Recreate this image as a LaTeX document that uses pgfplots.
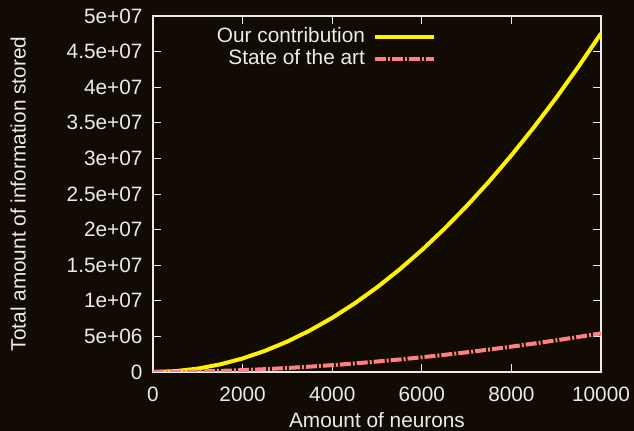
\documentclass[border=0pt]{standalone}
\usepackage{pgfplots}
\pgfplotsset{compat=1.18}
\usepackage{fontspec}
\setmainfont{Liberation Sans}
\definecolor{bg}{RGB}{18,11,3}
\definecolor{fg}{RGB}{235,235,235}
\definecolor{salmon}{RGB}{255,128,128}
\begin{document}
\begin{tikzpicture}[font=\fontsize{20.8bp}{24bp}\selectfont]
\fill[bg] (0,0) rectangle (634bp,431bp);
\useasboundingbox (0,0) rectangle (634bp,431bp);
\begin{axis}[
  at={(153bp,59bp)}, anchor=south west,
  scale only axis, width=448bp, height=356bp,
  xmin=0, xmax=10000, ymin=0, ymax=5e7,
  axis line style={fg, line width=1.2bp},
  tick style={fg, line width=1bp},
  major tick length=8bp,
  tick align=inside,
  xtick={0,2000,4000,6000,8000,10000},
  xticklabels={0,2000,4000,6000,8000,10000},
  ytick={0,5e6,1e7,1.5e7,2e7,2.5e7,3e7,3.5e7,4e7,4.5e7,5e7},
  yticklabels={0,5e+06,1e+07,1.5e+07,2e+07,2.5e+07,3e+07,3.5e+07,4e+07,4.5e+07,5e+07},
  scaled ticks=false,
  ticklabel style={text=fg},
  yticklabel style={xshift=-7bp},
  xticklabel style={yshift=-11bp},
  xlabel={Amount of neurons},
  ylabel={Total amount of information stored},
  xlabel style={text=fg, at={(axis description cs:0.5,-0.135)}, anchor=center},
  ylabel style={text=fg, at={(axis description cs:-0.301,0.5)}, anchor=center},
  legend plot pos=right,
  legend cell align=right,
  legend style={draw=none, fill=none, text=fg, at={(0.632,0.968)}, anchor=north east,
    row sep=3bp, inner sep=0pt, column sep=0pt,
    nodes={inner sep=0pt, text height=15bp, text depth=4bp}},
  legend image code/.code={\path (0bp,0bp); \draw[#1] (8bp,0bp) -- (67bp,0bp);},
]
\addplot[color=yellow, line width=4bp] coordinates {
(0,0) (500,118875) (1000,475500) (1500,1069875) (2000,1902000) (2500,2971875)
(3000,4279500) (3500,5824875) (4000,7608000) (4500,9628875) (5000,11887500)
(5500,14383875) (6000,17118000) (6500,20089875) (7000,23299500) (7500,26746875)
(8000,30432000) (8500,34354875) (9000,38515500) (9500,42913875) (10000,47550000)
};
\addlegendentry{Our contribution}
\addplot[color=salmon, line width=4bp, dash pattern=on 11bp off 2bp on 2bp off 2bp] coordinates {
(0,0) (500,20114) (1000,72382) (1500,153832) (2000,263127) (2500,399412)
(3000,562050) (3500,750567) (4000,964553) (4500,1203666) (5000,1467618)
(5500,1756168) (6000,2069084) (6500,2406145) (7000,2767205) (7500,3152073)
(8000,3560619) (8500,3992683) (9000,4448105) (9500,4926848) (10000,5428676)
};
\addlegendentry{State of the art}
\end{axis}
\end{tikzpicture}
\end{document}
